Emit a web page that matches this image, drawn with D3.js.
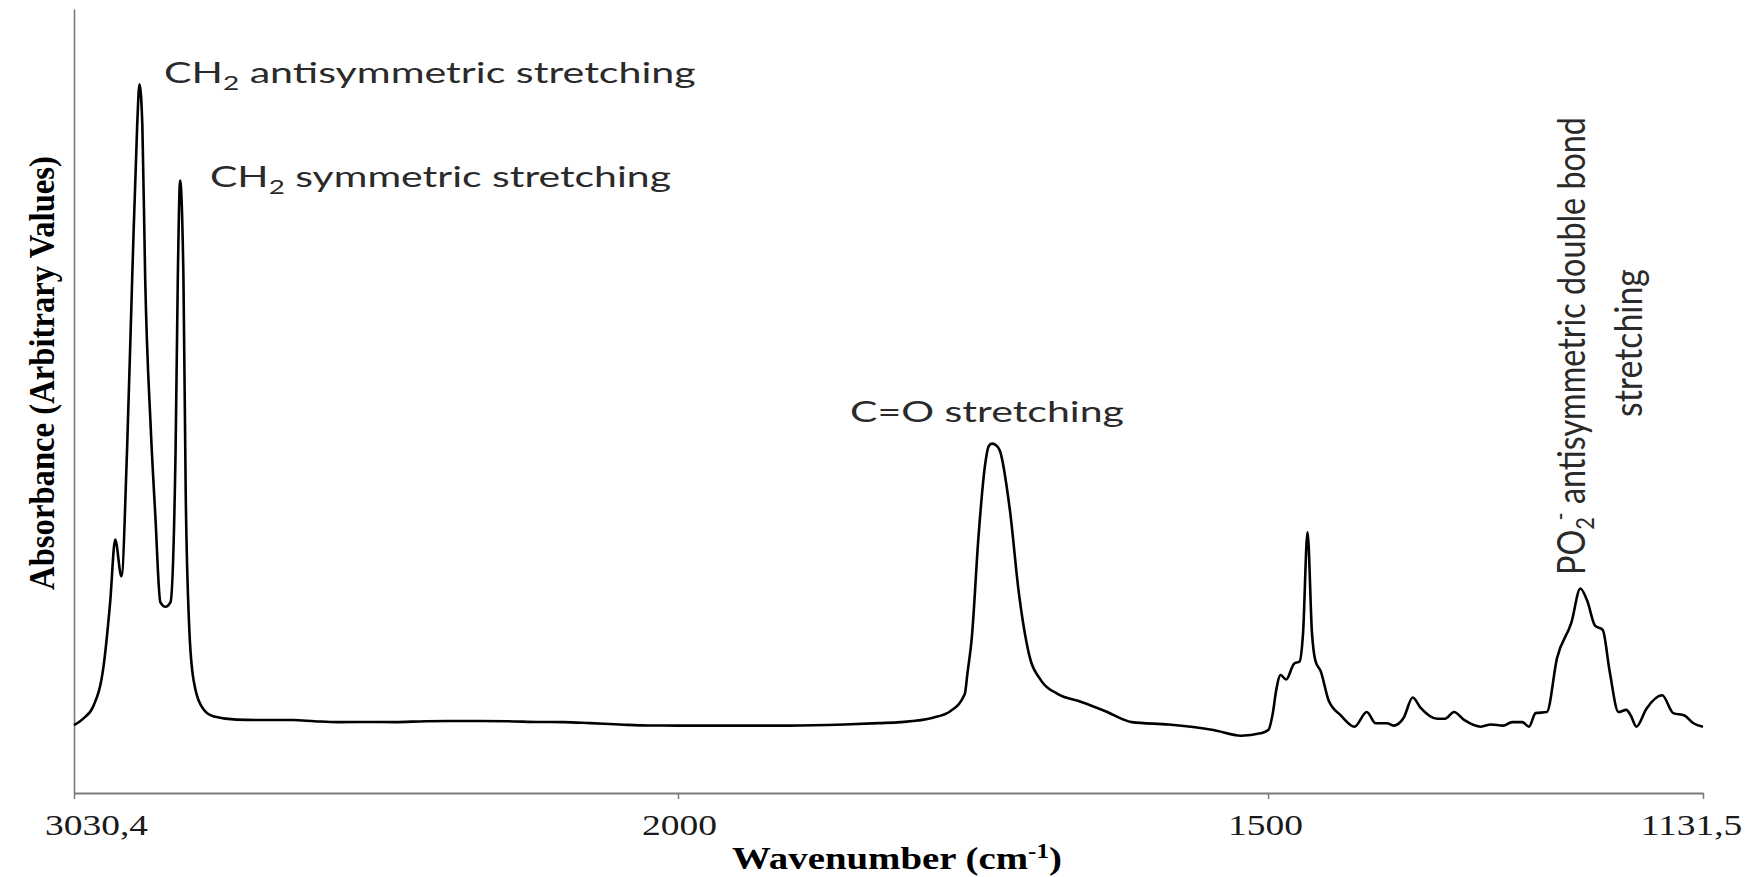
<!DOCTYPE html>
<html>
<head>
<meta charset="utf-8">
<script src="https://cdn.jsdelivr.net/npm/d3@7"></script>
<style>
  html, body { margin: 0; padding: 0; background: #fff; }
  svg { display: block; }
</style>
</head>
<body>
<svg id="chart" width="1760" height="877"></svg>
<script>
// ---- data ----
const wavenumber = [
  3030.4, 3015, 2997.5, 2980.2, 2968.7, 2960.1, 2949.5, 2939.9, 2931.1, 2922.6,
  2918.7, 2913.8, 2909.0, 2899.4, 2891.7, 2883.1, 2874.4, 2865.8, 2857.1, 2853.3,
  2849.4, 2843.7, 2839.8, 2834.0, 2826.3, 2808.9, 2791.6, 2753.2, 2700, 2657,
  2620, 2580, 2530, 2483.8, 2430, 2387.5, 2340, 2291.3, 2240, 2195.1,
  2150, 2098.9, 2050, 2002.8, 1953.9, 1906.5, 1859.1, 1830, 1811.7, 1784,
  1769, 1757, 1754.8, 1751, 1745.4, 1739.7, 1736.8, 1734.0, 1731.2, 1727.4,
  1718.8, 1711.2, 1702.7, 1692.3, 1678, 1658.2, 1638.3, 1615.5, 1584.2, 1546.3,
  1522.8, 1506.5, 1499.8, 1496.0, 1493.2, 1489.4, 1484.7, 1478.0, 1473.3, 1470.4,
  1466.6, 1462.8, 1460.0, 1455.3, 1448.6, 1438.3, 1426.8, 1416.4, 1408.9, 1399.3,
  1393.7, 1385.1, 1377.5, 1370.9, 1356.7, 1350.1, 1342.5, 1333.9, 1319.8, 1311.2,
  1300.8, 1293.2, 1284.6, 1279.0, 1273.3, 1263.8, 1255.2, 1242.9, 1235.4, 1229.6,
  1223.0, 1216.4, 1210.7, 1203.1, 1196.5, 1192.7, 1187.9, 1179.4, 1166.1, 1156.7,
  1147.2, 1139.6, 1131.5
];
const absorbance = [
  8.6, 9.4, 11.0, 16.0, 24.3, 32.3, 27.6, 43.7, 65.7, 85.2,
  90.4, 85.2, 65.7, 46.4, 35.4, 24.3, 23.7, 24.3, 43.7, 65.7,
  78.1, 65.7, 38.1, 21.4, 14.3, 10.55, 9.69, 9.3, 9.25, 9.25,
  9.1, 8.98, 9.0, 8.98, 9.1, 9.12, 9.12, 9.1, 9.0, 8.98,
  8.85, 8.68, 8.55, 8.54, 8.54, 8.54, 8.68, 8.85, 8.98, 9.55,
  10.41, 12.57, 15.15, 19.87, 32.63, 41.95, 44.2, 44.53, 44.4, 43.67,
  36.07, 25.47, 17.73, 14.28, 12.57, 11.56, 10.41, 8.98, 8.68, 7.97,
  7.25, 7.55, 7.97, 10.13, 12.99, 14.99, 14.42, 16.44, 16.72, 20.3,
  33.21, 20.3, 16.86, 15.43, 11.70, 9.83, 8.40, 10.27, 8.84, 8.84,
  8.54, 9.55, 12.13, 10.84, 9.41, 9.41, 10.27, 9.26, 8.40, 8.68,
  8.54, 8.98, 8.98, 8.40, 10.13, 10.27, 17.15, 21.74, 26.04, 24.46,
  21.30, 20.73, 15.57, 10.27, 10.55, 9.83, 8.40, 10.70, 12.41, 10.13,
  9.83, 8.84, 8.40
];
const xTickValues = [3030.4, 2000, 1500, 1131.5];
const xTickLabels = ["3030,4", "2000", "1500", "1131,5"];
const xAxisTitle = "Wavenumber (cm";
const xAxisTitleSup = "-1";
const yAxisTitle = "Absorbance (Arbitrary Values)";
const annotations = [
  {pre: "CH", sub: "2", post: " antisymmetric stretching"},
  {pre: "CH", sub: "2", post: " symmetric stretching"},
  {pre: "C=O stretching", sub: "", post: ""}
];
const poLine1 = {pre: "PO", sub: "2", sup: "-", post: " antisymmetric double bond"};
const poLine2 = "stretching";

// ---- layout ----
const svg = d3.select("#chart");
const X0 = 74, X2000 = 678, X1 = 1703, Ytop = 9, Ybot = 793;

const x = d3.scaleLinear().domain([3030.4, 2000, 1131.5]).range([X0, X2000, X1]);
const y = d3.scaleLinear().domain([0, 100]).range([Ybot - 0.5, Ytop]);

// axes
const xAxis = d3.axisBottom(x).tickValues(xTickValues)
  .tickFormat((d, i) => xTickLabels[i]).tickSize(6).tickSizeOuter(0);
const gx = svg.append("g").attr("transform", `translate(0,${Ybot})`).call(xAxis);
gx.select(".domain").attr("stroke", "#7a7a7a").attr("stroke-width", 2.2);
gx.selectAll(".tick line").attr("stroke", "#7a7a7a").attr("stroke-width", 1.5);
const tickShift = [22, 1, -3, -12];
gx.selectAll(".tick text")
  .attr("y", 0).attr("dy", 0)
  .attr("fill", "#1a1a1a")
  .attr("font-family", "'Liberation Serif', 'Times New Roman', serif")
  .attr("font-size", 30)
  .attr("text-anchor", "middle")
  .attr("transform", (d, i) => `translate(${tickShift[i]},42) scale(1.25,1)`);

const yAxis = d3.axisLeft(y).tickValues([]).tickSizeOuter(0);
const gy = svg.append("g").attr("transform", `translate(${X0},0)`).call(yAxis);
gy.select(".domain").attr("stroke", "#7a7a7a").attr("stroke-width", 1.6);

// spectrum line
const pts = wavenumber.map((w, i) => [w, absorbance[i]]);
const line = d3.line().x(d => x(d[0])).y(d => y(d[1])).curve(d3.curveMonotoneX);
svg.append("path").datum(pts)
  .attr("d", line)
  .attr("fill", "none")
  .attr("stroke", "#000")
  .attr("stroke-width", 2.6)
  .attr("stroke-linejoin", "round");

// helper to stretch text to a target length
function fitH(t, tx, ty, target) {
  const w = t.node().getBBox().width;
  const s = target / w;
  t.attr("transform", `translate(${tx},${ty}) scale(${s},1)`);
}
function fitV(t, tx, ty, target, cross) {
  const w = t.node().getBBox().width;
  const s = target / w;
  t.attr("transform", `translate(${tx},${ty}) rotate(-90) scale(${s},${cross})`);
}

// axis titles
const xt = svg.append("text")
  .attr("font-family", "'Liberation Serif', 'Times New Roman', serif")
  .attr("font-weight", "bold").attr("font-size", 31).attr("fill", "#000")
  .attr("text-anchor", "middle");
xt.append("tspan").text(xAxisTitle);
xt.append("tspan").attr("dy", -11).attr("font-size", 20).text(xAxisTitleSup);
xt.append("tspan").attr("dy", 11).text(")");
fitH(xt, 897, 869, 330);

const yt = svg.append("text")
  .attr("font-family", "'Liberation Serif', 'Times New Roman', serif")
  .attr("font-weight", "bold").attr("font-size", 27).attr("fill", "#000")
  .attr("text-anchor", "middle")
  .text(yAxisTitle);
fitV(yt, 54, 373, 434, 1.3);

// annotations
const annFont = "Lato, 'Open Sans', sans-serif";
const annPos = [
  {x: 164, y: 83, w: 532},
  {x: 210, y: 187, w: 461},
  {x: 850, y: 422, w: 274}
];
annotations.forEach((a, i) => {
  const t = svg.append("text")
    .attr("font-family", annFont).attr("font-size", 28).attr("fill", "#2a2a2a");
  t.append("tspan").text(a.pre);
  if (a.sub) {
    t.append("tspan").attr("dy", 7).attr("font-size", 19).text(a.sub);
    t.append("tspan").attr("dy", -7).text(a.post);
  }
  fitH(t, annPos[i].x, annPos[i].y, annPos[i].w);
});

const p1 = svg.append("text")
  .attr("font-family", annFont).attr("font-size", 28).attr("fill", "#2a2a2a")
  .attr("text-anchor", "middle");
p1.append("tspan").text(poLine1.pre);
p1.append("tspan").attr("dy", 7).attr("font-size", 19).text(poLine1.sub);
p1.append("tspan").attr("dy", -19).attr("dx", -3).attr("font-size", 19).text(poLine1.sup);
p1.append("tspan").attr("dy", 12).text(poLine1.post);
fitV(p1, 1585, 346, 458, 1.35);

const p2 = svg.append("text")
  .attr("font-family", annFont).attr("font-size", 28).attr("fill", "#2a2a2a")
  .attr("text-anchor", "middle")
  .text(poLine2);
fitV(p2, 1642, 343, 148, 1.35);
</script>
</body>
</html>
